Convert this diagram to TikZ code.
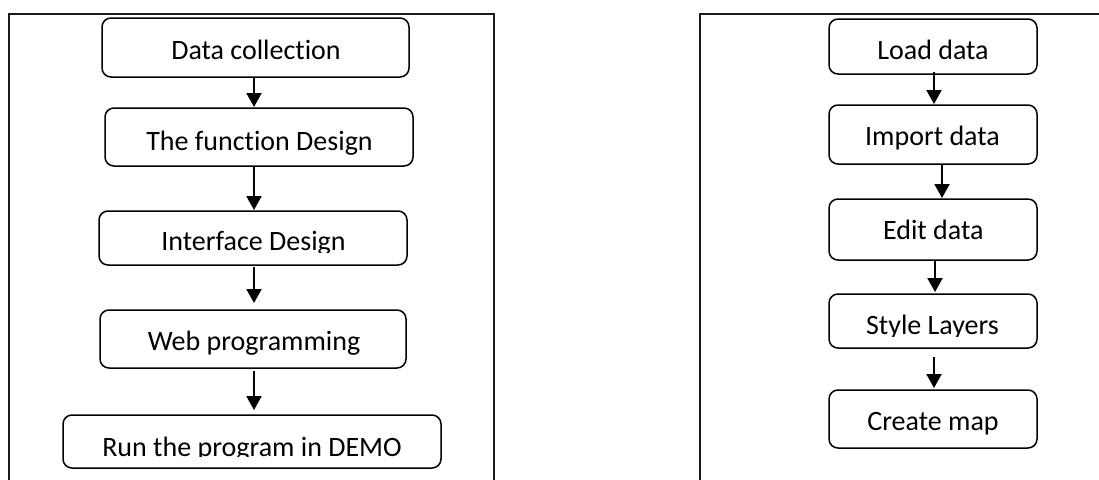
\documentclass[tikz,border=0pt]{standalone}
\usepackage{fontspec}
\setmainfont{Carlito}[RawFeature=-liga]
\usetikzlibrary{arrows.meta}
\tikzset{
  stepbox/.style={draw, line width=1.5pt, rounded corners=9pt, inner sep=0pt, outer sep=0pt},
  lbl/.style={anchor=base, inner sep=0pt, outer sep=0pt, font=\fontsize{28}{33}\selectfont},
  flow/.style={line width=2pt, -{Triangle[width=15pt,length=14pt]}},
  frame/.style={line width=1.7pt, black!90},
}
\begin{document}
\begin{tikzpicture}[x=1pt, y=-1pt]
  \useasboundingbox (0,0) rectangle (1099,479);

  % outer frames
  \draw[frame] (9,482) -- (9,14) -- (494,14) -- (494,482);
  \draw[frame] (700,482) -- (700,14) -- (1102,14);

  % arrow axes
  \coordinate (axL) at (254,0);
  \coordinate (axR) at (934,0);
  \coordinate (axRb) at (942,0);
  \coordinate (axRc) at (935,0);

  % ---- left column: development steps ----
  \node[stepbox, minimum width=307pt, minimum height=59pt] (b1) at (255.5,47.5) {};
  \node[lbl] (t1) at (256,59.3) {Data collection};

  \node[stepbox, minimum width=308pt, minimum height=58pt] (b2) at (259,137) {};
  \node[lbl] (t2) at (259.5,150) {The function Design};

  \node[stepbox, minimum width=308pt, minimum height=54pt] (b3) at (253,238) {};
  \begin{scope}
    \clip (99,211) rectangle (407,252.3);
    \node[lbl] (t3) at (253.5,250.7) {Interface Design};
  \end{scope}

  \node[stepbox, minimum width=306pt, minimum height=58pt] (b4) at (253,339) {};
  \node[lbl] (t4) at (254,350.7) {Web programming};

  \node[stepbox, minimum width=378pt, minimum height=53pt] (b5) at (252,441.5) {};
  \begin{scope}
    \clip (63,415) rectangle (441,456.7);
    \node[lbl] (t5) at (252,456) {Run the program in DEMO};
  \end{scope}

  \draw[flow, shorten >=1pt] (b1.south -| axL) -- (b2.north -| axL);
  \draw[flow, shorten >=1pt] (b2.south -| axL) -- (b3.north -| axL);
  \draw[flow, shorten <=2pt, shorten >=7pt] (b3.south -| axL) -- (b4.north -| axL);
  \draw[flow, shorten <=3pt, shorten >=5pt] (b4.south -| axL) -- (b5.north -| axL);

  % ---- right column: map making steps ----
  \node[stepbox, minimum width=208pt, minimum height=55pt] (r1) at (933,46.5) {};
  \node[lbl] (s1) at (933,59.3) {Load data};

  \node[stepbox, minimum width=208pt, minimum height=59pt] (r2) at (933,134.5) {};
  \node[lbl] (s2) at (932.5,145) {Import data};

  \node[stepbox, minimum width=208pt, minimum height=61pt] (r3) at (933,229.5) {};
  \node[lbl] (s3) at (933.3,239) {Edit data};

  \node[stepbox, minimum width=208pt, minimum height=54pt] (r4) at (933,321) {};
  \begin{scope}
    \clip (829,294) rectangle (1037,336);
    \node[lbl] (s4) at (932.5,334.3) {Style Layers};
  \end{scope}

  \node[stepbox, minimum width=208pt, minimum height=58pt] (r5) at (933,419) {};
  \node[lbl] (s5) at (933,430) {Create map};

  \draw[flow, shorten <=-2pt, shorten >=1pt] (r1.south -| axR) -- (r2.north -| axR);
  \draw[flow, shorten >=1pt] (r2.south -| axRb) -- (r3.north -| axRb);
  \draw[flow, shorten <=1pt, shorten >=2pt] (r3.south -| axRc) -- (r4.north -| axRc);
  \draw[flow, shorten <=9pt, shorten >=2pt] (r4.south -| axR) -- (r5.north -| axR);
\end{tikzpicture}
\end{document}
